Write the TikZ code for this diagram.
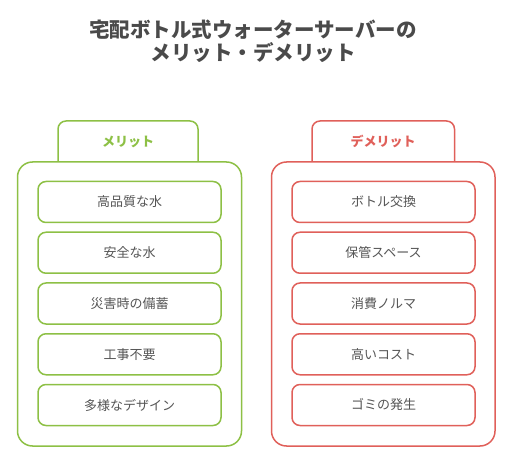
\documentclass[tikz,border=0pt]{standalone}
\usepackage{fontspec}
\setmainfont{Noto Sans CJK JP}
\usetikzlibrary{positioning}
\definecolor{verde}{HTML}{8DC045}
\definecolor{rosso}{HTML}{E0605A}
\definecolor{testo}{HTML}{4A4A4A}
\definecolor{voce}{HTML}{555555}
\begin{document}
\begin{tikzpicture}[x=1pt, y=-1pt,
			titolo/.style={font=\bfseries\fontsize{20.5}{23}\selectfont, text=testo, align=center},
			cornice/.style={line width=1.5pt, rounded corners=15pt},
			linguetta/.style={line width=1.5pt, rounded corners=8pt},
			etich/.style={font=\bfseries\fontsize{13}{15}\selectfont},
			voce/.style={draw, line width=1.5pt, rounded corners=8pt, fill=white,
				minimum width=183pt, minimum height=41pt, inner sep=0pt,
				font=\fontsize{13}{15}\selectfont, text=voce},
			]
			\useasboundingbox (0,0) rectangle (530,470);
			
			%% titolo ------------------------------------------------
			\node[titolo] (tit) at (253,41.5) {宅配ボトル式ウォーターサーバーの\\メリット・デメリット};
			
			%% =========================================================
			%% colonna sinistra: MERITI
			%% =========================================================
			\draw[linguetta, verde] (58,162) -- (58,121) -- (198,121) -- (198,162);
			\node[etich, text=verde] (mtab) at (128,141.5) {メリット};
			\draw[cornice, verde] (17.5,162) rectangle (241.5,446);
			\foreach \i/\t in {1/高品質な水, 2/安全な水, 3/災害時の備蓄, 4/工事不要, 5/多様なデザイン}
			\node[voce, draw=verde] (m\i) at (129.5,{202+50.75*(\i-1)}) {\t};
			
			%% =========================================================
			%% colonna destra: DEMERITI
			%% =========================================================
			\draw[linguetta, rosso] (312,162) -- (312,121) -- (454.5,121) -- (454.5,162);
			\node[etich, text=rosso] (dtab) at (383,141.5) {デメリット};
			\draw[cornice, rosso] (271.5,162) rectangle (495,446);
			\foreach \i/\t in {1/ボトル交換, 2/保管スペース, 3/消費ノルマ, 4/高いコスト, 5/ゴミの発生}
			\node[voce, draw=rosso] (d\i) at (383.5,{202+50.75*(\i-1)}) {\t};
			
	\end{tikzpicture}
\end{document}
